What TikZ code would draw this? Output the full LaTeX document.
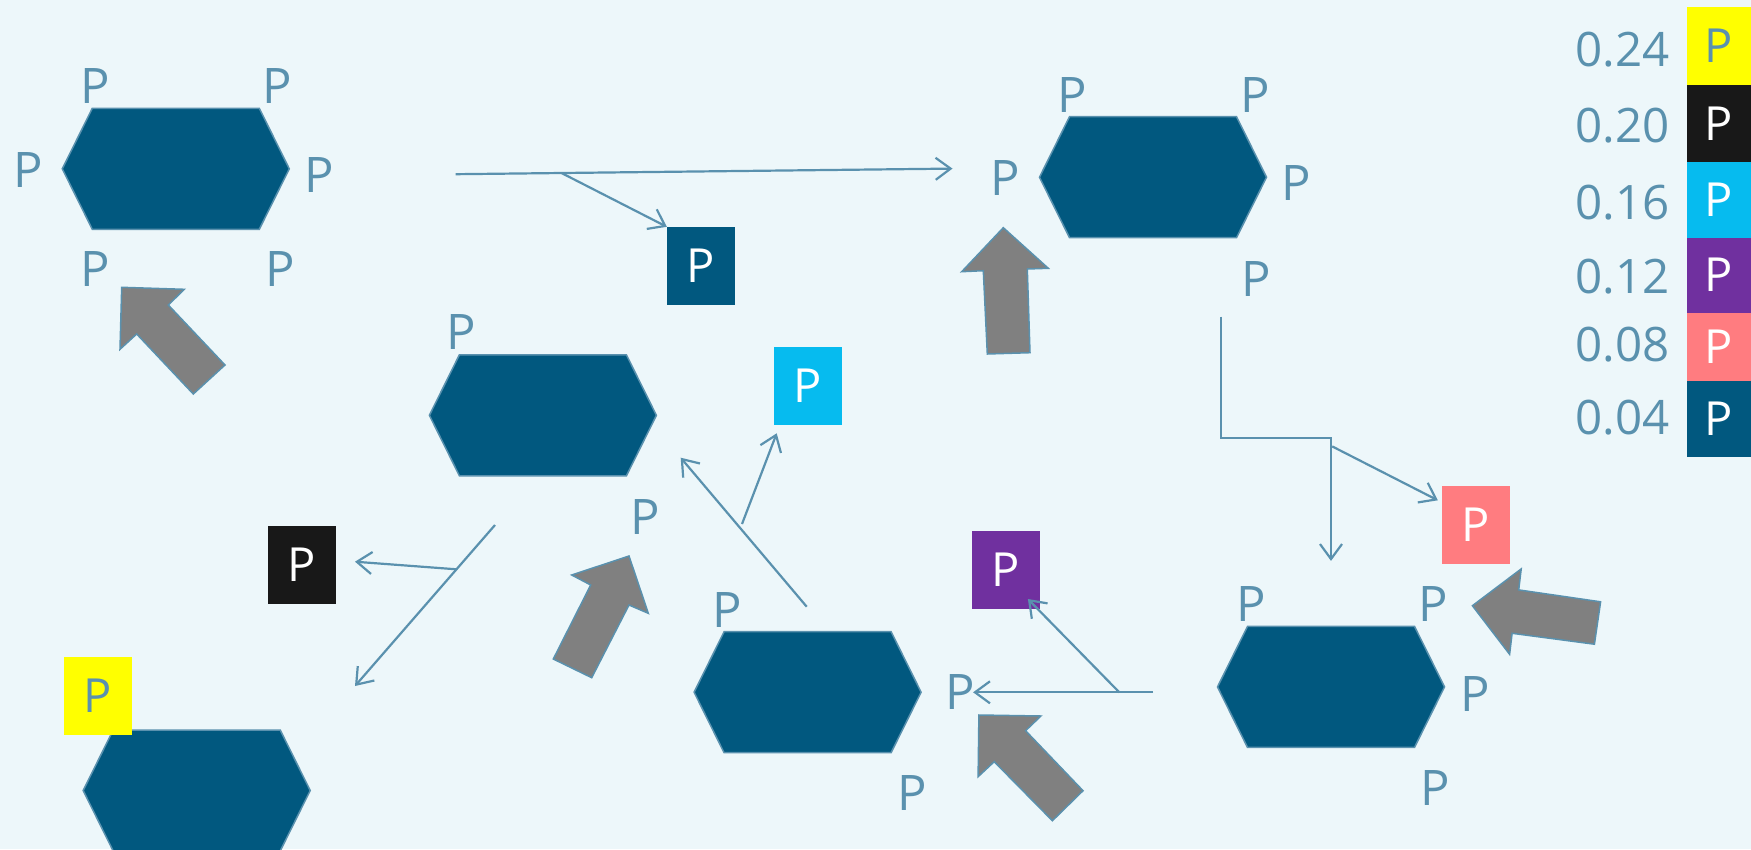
\documentclass[tikz,border=0pt]{standalone}
\usepackage{fontspec}
\setmainfont{Open Sans}
\usetikzlibrary{arrows.meta}
\definecolor{bg}{HTML}{EDF7FA}
\definecolor{lc}{HTML}{5A91AE}
\definecolor{hexfill}{HTML}{01587F}
\definecolor{gr}{HTML}{808080}
\definecolor{cyel}{HTML}{FFFF00}
\definecolor{cblk}{HTML}{181818}
\definecolor{ccyan}{HTML}{06BBEF}
\definecolor{cpur}{HTML}{70309F}
\definecolor{cpink}{HTML}{FF7C80}
\definecolor{cnavy}{HTML}{01587F}
\newcommand{\hexagonat}[3]{%
  \coordinate (#1) at (#2,#3);
  \filldraw[hexa,shift={(#2,#3)}] (-113.5,0) -- (-83.5,-60.5) -- (83.5,-60.5) -- (113.5,0) -- (83.5,60.5) -- (-83.5,60.5) -- cycle;}
\tikzset{
  hexa/.style={fill=hexfill, draw=lc, line width=1.5pt, line join=miter},
  lbl/.style={text=lc, font=\fontsize{49}{55}\selectfont, inner sep=0pt},
  num/.style={text=lc, font=\fontsize{47.5}{55}\selectfont, inner sep=0pt, anchor=east},
  sq/.style={minimum width=68pt, minimum height=78pt, inner sep=0pt, text=white, font=\fontsize{47}{52}\selectfont},
  lg/.style={minimum width=64pt, inner sep=0pt, text=white, font=\fontsize{47}{52}\selectfont},
  conn/.style={draw=lc, line width=2.2pt},
  arr/.style={-{Straight Barb[length=15pt,width=22pt]}},
  blk/.style={fill=gr, draw=lc, line width=1.5pt, line join=miter},
}
\begin{document}
\begin{tikzpicture}[x=1pt,y=-1pt]
\fill[bg] (0,0) rectangle (1751,849);
\useasboundingbox (0,0) rectangle (1751,849);

% hexagons
\hexagonat{h1}{175.8}{168.8}
\hexagonat{h2}{1153}{177.2}
\hexagonat{h3}{1331}{686.9}
\hexagonat{h4}{807.6}{692.2}
\hexagonat{h5}{542.9}{415.3}
\hexagonat{h6}{196.7}{790.5}

% labels hexagon 1
\node[lbl] (p11) at (95,85.7) {P};
\node[lbl] (p12) at (277.7,85.7) {P};
\node[lbl] (p13) at (28.3,170) {P};
\node[lbl] (p14) at (319.3,175) {P};
\node[lbl] (p15) at (95,269.3) {P};
\node[lbl] (p16) at (280,269.3) {P};
% labels hexagon 2
\node[lbl] (p21) at (1072.7,95) {P};
\node[lbl] (p22) at (1255,95) {P};
\node[lbl] (p23) at (1005,178.3) {P};
\node[lbl] (p24) at (1296.7,183.3) {P};
\node[lbl] (p25) at (1256.7,279.3) {P};
% labels hexagon 3
\node[lbl] (p31) at (1251,603.9) {P};
\node[lbl] (p32) at (1433.1,603.9) {P};
\node[lbl] (p33) at (1475,693.9) {P};
\node[lbl] (p34) at (1434.9,787.7) {P};
% labels hexagon 4
\node[lbl] (p41) at (727.4,610) {P};
\node[lbl] (p42) at (960.5,692.3) {P};
\node[lbl] (p43) at (911.9,793.3) {P};
% labels hexagon 5
\node[lbl] (p51) at (461.7,331.7) {P};
\node[lbl] (p52) at (645.7,516.7) {P};

% coloured boxes
\node[sq, fill=cnavy] (bnavy) at (701,266) {P};
\node[sq, fill=ccyan] (bcyan) at (808,386) {P};
\node[sq, fill=cblk] (bblk) at (302,565) {P};
\node[sq, fill=cpur] (bpur) at (1006,570) {P};
\node[sq, fill=cpink] (bpink) at (1475.9,524.8) {P};
\node[sq, fill=cyel, text=lc] (byel) at (98,696.2) {P};

% connector coordinates
\coordinate (c1s) at (455.6,174.2);
\coordinate (c1e) at (952.5,168.6);
\coordinate (c1b) at (561.7,173.1);
\coordinate (c2s) at (1221,316.5);
\coordinate (c2m) at (1331,438.3);
\coordinate (c2e) at (1331,560.9);
\coordinate (c2b) at (1332.2,446.4);
\coordinate (c2t) at (1437.8,500.3);
\coordinate (c3s) at (495,525);
\coordinate (c3e) at (355,686);
\coordinate (c3b) at (456.5,569.3);
\coordinate (c3t) at (355,561.7);
\coordinate (c4s) at (806.7,606.7);
\coordinate (c4e) at (680.7,457.7);
\coordinate (c4b) at (742,524);
\coordinate (c4t) at (776.7,433.3);
\coordinate (c5s) at (1153,692.3);
\coordinate (c5e) at (973.1,692.3);
\coordinate (c5b) at (1119.3,692.3);
\coordinate (c5t) at (1027.9,599);

% connectors
\draw[conn,arr] (c1s) -- (c1e);
\draw[conn,arr] (c1b) -- (bnavy.north west);
\draw[conn,arr] (c2s) |- (c2m) -- (c2e);
\draw[conn,arr] (c2b) -- (c2t);
\draw[conn,arr] (c3s) -- (c3e);
\draw[conn,arr] (c3b) -- (c3t);
\draw[conn,arr] (c4s) -- (c4e);
\draw[conn,arr] (c4b) -- (c4t);
\draw[conn,arr] (c5s) -- (c5e);
\draw[conn,arr] (c5b) -- (c5t);

% block arrows
\draw[blk] (121.7,287.3) -- (184.3,289.3) -- (168.3,305) -- (225,365) -- (193.3,394) -- (136.7,334) -- (120,349.3) -- cycle;
\draw[blk] (1003.3,227.7) -- (1048.3,268.3) -- (1027.3,269) -- (1030,352.7) -- (987.3,354) -- (983.3,270.7) -- (961.7,271.7) -- cycle;
\draw[blk] (1472.4,605.7) -- (1521.2,568.9) -- (1518.7,589.9) -- (1600.6,601.8) -- (1594.4,644.2) -- (1512.1,633.3) -- (1509.6,654.3) -- cycle;
\draw[blk] (978.9,715) -- (1040.9,716) -- (1025.6,730.7) -- (1083,790.7) -- (1052.4,820.7) -- (994.2,761.7) -- (978.1,776.7) -- cycle;
\draw[blk] (629,556) -- (648.3,613.3) -- (629,605) -- (591.7,677.7) -- (553.3,659) -- (590.7,585) -- (571.7,575) -- cycle;

% legend
\node[lg, fill=cyel, text=lc, minimum height=77.7pt] (l1) at (1719,46.2) {P};
\node[lg, fill=cblk, minimum height=77pt] (l2) at (1719,123.5) {P};
\node[lg, fill=ccyan, minimum height=75.7pt] (l3) at (1719,199.9) {P};
\node[lg, fill=cpur, minimum height=75pt] (l4) at (1719,275.2) {P};
\node[lg, fill=cpink, minimum height=68pt] (l5) at (1719,346.7) {P};
\node[lg, fill=cnavy, minimum height=76pt] (l6) at (1719,418.7) {P};
\node[num] (v1) at (1670,50) {0.24};
\node[num] (v2) at (1670,126) {0.20};
\node[num] (v3) at (1670,203) {0.16};
\node[num] (v4) at (1670,276.7) {0.12};
\node[num] (v5) at (1670,345) {0.08};
\node[num] (v6) at (1670,417.5) {0.04};
\end{tikzpicture}
\end{document}
